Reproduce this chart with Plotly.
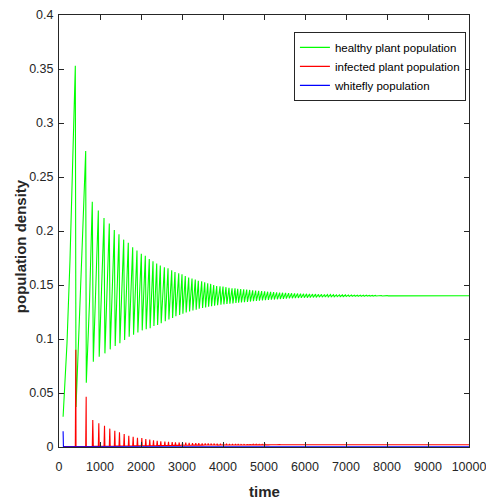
import plotly.graph_objects as go

# ---- healthy plant population: start, extra points on the first rises, then peak/trough of every cycle
green_start_t = 100
green_start_v = 0.028
rise_t = [195, 268, 341, 496, 577, 745]
rise_v = [0.096, 0.173, 0.266, 0.111, 0.198, 0.135]

peak_t = [398, 651, 812, 959, 1098, 1227, 1349, 1463, 1578, 1690, 1797, 1902, 2008, 2105,
          2202, 2293, 2383, 2471, 2570, 2659, 2749, 2829, 2920, 3000, 3080, 3163, 3244, 3324,
          3398, 3480, 3554, 3627, 3700, 3773, 3846, 3927, 4000, 4073, 4146, 4220, 4293, 4359,
          4432, 4505, 4578, 4651, 4724, 4797, 4870, 4943, 5016, 5089, 5162, 5235, 5308, 5381,
          5454, 5527, 5600, 5673, 5746, 5819, 5892, 5965, 6038, 6111, 6184, 6257, 6330, 6403,
          6476, 6549, 6622, 6695, 6768, 6841, 6914, 6987, 7060, 7133, 7206, 7279, 7352, 7425,
          7498, 7571, 7644, 7717, 7790, 7863, 7936, 8009]
peak_v = [0.353, 0.274, 0.227, 0.219, 0.212, 0.207, 0.201, 0.197, 0.192, 0.189, 0.185, 0.182,
          0.179, 0.177, 0.174, 0.172, 0.170, 0.168, 0.1665, 0.1655, 0.1636, 0.162, 0.1608, 0.160,
          0.1583, 0.157, 0.156, 0.155, 0.154, 0.1534, 0.1525, 0.1515, 0.151, 0.150, 0.149, 0.1488,
          0.1485, 0.148, 0.1475, 0.147, 0.1469, 0.1465,
          0.1463, 0.1460, 0.1457, 0.1454, 0.1451, 0.1448, 0.1446, 0.1443, 0.1441, 0.1438, 0.1436,
          0.1434, 0.1432, 0.1430, 0.1428, 0.1427, 0.1425, 0.1424, 0.1422, 0.1421, 0.1420, 0.1419,
          0.1418, 0.1417, 0.1416, 0.1415, 0.1414, 0.1413, 0.1412, 0.1411, 0.1411, 0.1410, 0.1409,
          0.1409, 0.1408, 0.1408, 0.1407, 0.1407, 0.1406, 0.1406, 0.1405, 0.1405, 0.1405, 0.1404,
          0.1404, 0.1404, 0.1403, 0.1403, 0.1402, 0.1402]
trough_t = [415, 666, 837, 981, 1120, 1249, 1371, 1485, 1600, 1712, 1819, 1924, 2030, 2127,
            2224, 2315, 2405, 2493, 2592, 2681, 2771, 2851, 2942, 3022, 3102, 3185, 3266, 3346,
            3420, 3502, 3576, 3649, 3722, 3795, 3868, 3949, 4022, 4095, 4168, 4242, 4315, 4381,
            4450, 4523, 4596, 4669, 4742, 4815, 4888, 4961, 5034, 5107, 5180, 5253, 5326, 5399,
            5472, 5545, 5618, 5691, 5764, 5837, 5910, 5983, 6056, 6129, 6202, 6275, 6348, 6421,
            6494, 6567, 6640, 6713, 6786, 6859, 6932, 7005, 7078, 7151, 7224, 7297, 7370, 7443,
            7516, 7589, 7662, 7735, 7808, 7881, 7954, 8027]
trough_v = [0.037, 0.0595, 0.079, 0.0836, 0.0867, 0.0904, 0.0935, 0.096, 0.099, 0.102, 0.104,
            0.106, 0.108, 0.109, 0.110, 0.112, 0.113, 0.1145, 0.1165, 0.1180, 0.1195, 0.1210,
            0.1222, 0.1233, 0.1245, 0.1255, 0.1264, 0.1272, 0.1280, 0.1287, 0.1293, 0.1299,
            0.1304, 0.1309, 0.1313, 0.1317, 0.1321, 0.1324, 0.1327, 0.1330, 0.1333, 0.1336,
            0.1338, 0.1341, 0.1344, 0.1347, 0.1350, 0.1353, 0.1355, 0.1358, 0.1360, 0.1362,
            0.1364, 0.1366, 0.1368, 0.1370, 0.1372, 0.1374, 0.1376, 0.1377, 0.1379, 0.1380,
            0.1381, 0.1382, 0.1383, 0.1384, 0.1385, 0.1386, 0.1387, 0.1388, 0.1389, 0.1390,
            0.1391, 0.1391, 0.1392, 0.1393, 0.1393, 0.1394, 0.1394, 0.1395, 0.1395, 0.1396,
            0.1396, 0.1396, 0.1397, 0.1397, 0.1397, 0.1398, 0.1398, 0.1398, 0.1399, 0.1399]
green_end_t = 10000
green_end_v = 0.1400

# ---- infected plant population: a spike at each drop of the healthy plants
red_start_t = 100
red_start_v = 0.0005
red_spike_t = [410, 663, 824, 971, 1110, 1239, 1361, 1475, 1590, 1702, 1809, 1914, 2020, 2117,
               2214, 2305, 2395, 2483, 2582, 2671, 2761, 2841, 2932, 3012, 3092, 3175, 3256, 3336,
               3410, 3492, 3566, 3639, 3712, 3785, 3858, 3939, 4012, 4085, 4158, 4232, 4305, 4371,
               4443, 4516, 4589, 4662, 4735, 4808, 4881, 4954, 5027, 5100, 5173, 5246, 5319, 5392]
red_spike_v = [0.090, 0.0466, 0.025, 0.022, 0.0197, 0.017, 0.015, 0.0136, 0.012, 0.0105, 0.0095,
               0.0086, 0.0082, 0.0074, 0.0068, 0.0062, 0.0057, 0.0053, 0.0050, 0.0048, 0.0046,
               0.0044, 0.0042, 0.0041, 0.0040, 0.0038, 0.0037, 0.0036, 0.0035, 0.0034, 0.0034,
               0.0033, 0.0032, 0.0032, 0.0031, 0.0031, 0.0030, 0.0030, 0.0029, 0.0029, 0.0028,
               0.0028, 0.0027, 0.0027, 0.0026, 0.0026, 0.0025, 0.0025, 0.0024, 0.0024, 0.0024,
               0.0023, 0.0023, 0.0023, 0.0022, 0.0022]
red_base_v = [0.0005, 0.0005, 0.0006, 0.0006, 0.0007, 0.0007, 0.0008, 0.0008, 0.0009, 0.0009,
              0.0010, 0.0010, 0.0011, 0.0011, 0.0012, 0.0012, 0.0013, 0.0013, 0.0014, 0.0014,
              0.0015, 0.0015, 0.0015, 0.0016, 0.0016, 0.0016, 0.0017, 0.0017, 0.0017, 0.0017,
              0.0018, 0.0018, 0.0018, 0.0018, 0.0018, 0.0019, 0.0019, 0.0019, 0.0019, 0.0019,
              0.0019, 0.0019, 0.0019, 0.0019, 0.0020, 0.0020, 0.0020, 0.0020, 0.0020, 0.0020,
              0.0020, 0.0020, 0.0021, 0.0021, 0.0021, 0.0021]
red_end_t = 10000
red_end_v = 0.0021

# ---- whitefly population
blue_t = [100, 108, 10000]
blue_v = [0.0145, 0.0002, 0.0001]

# ---- axis ticks
x_ticks = [0, 1000, 2000, 3000, 4000, 5000, 6000, 7000, 8000, 9000, 10000]
y_ticks = [0, 0.05, 0.1, 0.15, 0.2, 0.25, 0.3, 0.35, 0.4]

# assemble the healthy-plant curve in time order
green_pts = [(green_start_t, green_start_v)]
green_pts += list(zip(rise_t, rise_v))
green_pts += list(zip(peak_t, peak_v))
green_pts += list(zip(trough_t, trough_v))
green_pts.append((green_end_t, green_end_v))
green_pts.sort(key=lambda p: p[0])
gx = [p[0] for p in green_pts]
gy = [p[1] for p in green_pts]

# assemble the infected-plant curve: base -> spike -> base around every drop
red_pts = [(red_start_t, red_start_v)]
for k in range(len(red_spike_t)):
    red_pts.append((peak_t[k], red_base_v[k]))
    red_pts.append((red_spike_t[k], red_spike_v[k]))
    red_pts.append((trough_t[k], red_base_v[k]))
red_pts.append((red_end_t, red_end_v))
rx = [p[0] for p in red_pts]
ry = [p[1] for p in red_pts]

FONT = "Liberation Sans, Arial, sans-serif"
INK = "#262626"

fig = go.Figure()
fig.add_trace(go.Scatter(x=gx, y=gy, mode="lines", name="healthy plant population",
                         line=dict(color="#00ff00", width=1.1)))
fig.add_trace(go.Scatter(x=rx, y=ry, mode="lines", name="infected plant population",
                         line=dict(color="#ff0000", width=1.1)))
fig.add_trace(go.Scatter(x=blue_t, y=blue_v, mode="lines", name="whitefly population",
                         line=dict(color="#0000ff", width=1.1)))

axis_common = dict(showgrid=False, zeroline=False, showline=True, linecolor=INK, linewidth=1,
                   mirror="ticks", ticks="inside", ticklen=5, tickcolor=INK, tickwidth=1,
                   automargin=False, ticklabeloverflow="allow",
                   tickfont=dict(family=FONT, size=12.5, color=INK))
fig.update_xaxes(range=[0, 10000], tickvals=x_ticks, ticktext=[str(v) for v in x_ticks],
                 ticklabelstandoff=8, **axis_common)
fig.update_yaxes(range=[0, 0.4], tickvals=y_ticks, ticktext=[f"{v:g}" for v in y_ticks],
                 ticklabelstandoff=2, **axis_common)

fig.add_annotation(text="<b>time</b>", xref="paper", yref="paper", x=0.502, y=-0.102,
                   showarrow=False, xanchor="center", yanchor="middle",
                   font=dict(family=FONT, size=15, color=INK))
fig.add_annotation(text="<b>population density</b>", xref="paper", yref="paper", x=-0.095,
                   y=0.465, showarrow=False, textangle=-90, xanchor="center", yanchor="middle",
                   font=dict(family=FONT, size=15, color=INK))

fig.update_layout(
    width=486, height=501,
    margin=dict(l=59, r=17, t=15, b=54, autoexpand=False),
    paper_bgcolor="white", plot_bgcolor="white",
    showlegend=True,
    legend=dict(x=0.573, y=0.961, xanchor="left", yanchor="top",
                bgcolor="white", bordercolor=INK, borderwidth=1,
                font=dict(family=FONT, size=11.5, color="black"),
                tracegroupgap=0, itemwidth=30),
)

fig.write_html("out.html")
